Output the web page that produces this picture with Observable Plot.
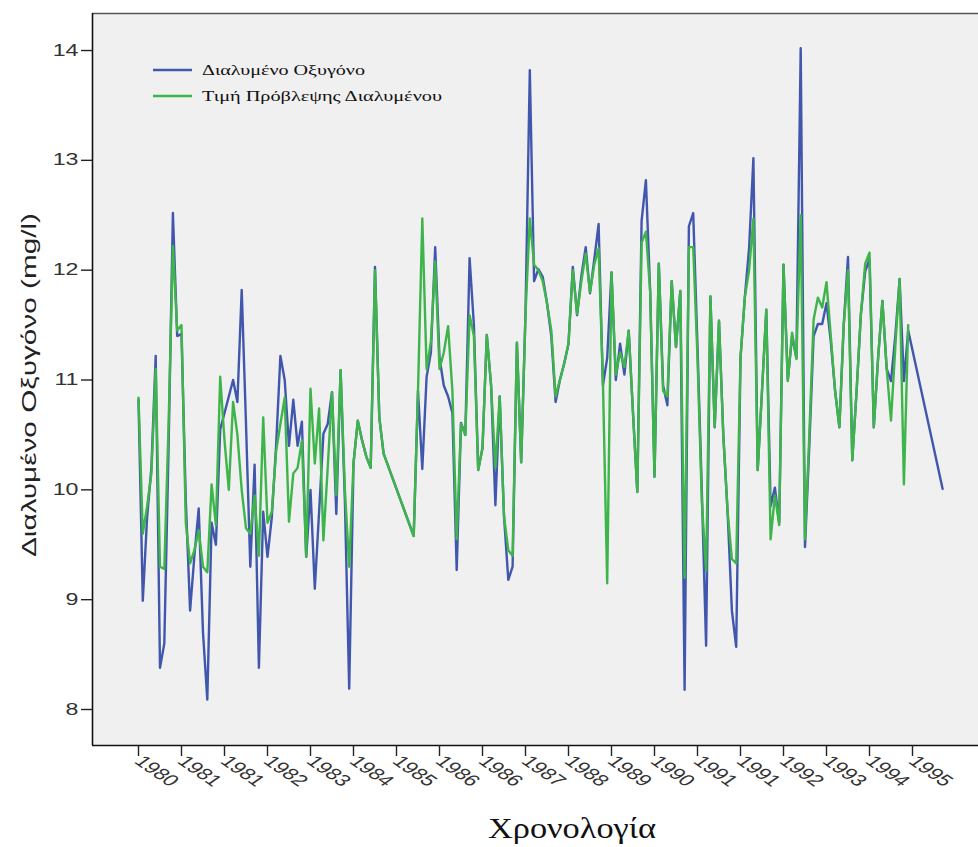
<!DOCTYPE html>
<html>
<head>
<meta charset="utf-8">
<script src="https://cdn.jsdelivr.net/npm/d3@7"></script>
<script src="https://cdn.jsdelivr.net/npm/@observablehq/plot@0.6"></script>
<style>
  html, body { margin: 0; padding: 0; background: #ffffff; }
  svg { display: block; }
</style>
</head>
<body>
<div id="chart"></div>
<script>
// ---------- data ----------
const seriesNames = ["Διαλυμένο Οξυγόνο", "Τιμή Πρόβλεψης Διαλυμένου"];
const seriesColors = ["#4157ad", "#3db54a"];

// x axis: case sequence, a labelled tick every 10 cases
const tickCases = [0, 10, 20, 30, 40, 50, 60, 70, 80, 90, 100, 110, 120, 130, 140, 150, 160, 170, 180];
const tickLabels = ["1980", "1981", "1981", "1982", "1983", "1984", "1985", "1986", "1986", "1987",
                    "1988", "1989", "1990", "1991", "1991", "1992", "1993", "1994", "1995"];
const yTicks = [8, 9, 10, 11, 12, 13, 14];

// observed dissolved oxygen (mg/l), one value per case; null = no vertex drawn
const observed = [
  10.82, 8.99, 9.75, 10.2, 11.22, 8.38, 8.6, 10.4, 12.52, 11.4,
  11.42, 9.9, 8.9, 9.4, 9.83, 8.7, 8.09, 9.7, 9.5, 10.55,
  10.7, 10.85, 11.0, 10.8, 11.82, 10.6, 9.3, 10.23, 8.38, 9.8,
  9.39, 9.75, 10.4, 11.22, 11.0, 10.4, 10.82, 10.4, 10.62, 9.39,
  10.0, 9.1, 9.8, 10.51, 10.6, 10.89, 9.78, 11.09, 9.9, 8.19,
  10.24, 10.63, 10.45, 10.3, 10.2, 12.03, 10.66, 10.33, null, null,
  null, null, null, null, 9.58, 10.9, 10.19, 11.03, 11.25, 12.21,
  11.2, 10.95, 10.85, 10.7, 9.27, 10.61, 10.5, 12.11, 11.5, 10.18,
  10.38, 11.41, 10.95, 9.86, 10.85, 9.76, 9.18, 9.3, 11.34, 10.25,
  11.6, 13.82, 11.9, 12.01, 11.94, 11.7, 11.4, 10.8, 11.0, 11.15,
  11.33, 12.03, 11.59, 11.95, 12.21, 11.79, 12.1, 12.42, 10.95, 11.2,
  11.98, 11.0, 11.33, 11.05, 11.45, 10.7, 9.98, 12.45, 12.82, 11.8,
  10.12, 12.06, 10.95, 10.77, 11.9, 11.3, 11.81, 8.18, 12.4, 12.52,
  11.3, 10.0, 8.58, 11.76, 10.57, 11.54, 10.5, 9.8, 8.9, 8.57,
  11.2, 11.75, 12.2, 13.02, 10.18, 10.9, 11.64, 9.85, 10.02, 9.7,
  12.05, 11.0, 11.4, 11.2, 14.02, 9.48, 10.4, 11.4, 11.51, 11.51,
  11.7, 11.35, 10.9, 10.57, 11.5, 12.12, 10.27, 10.9, 11.6, 11.99,
  12.1, 10.57, 11.2, 11.72, 11.1, 10.99, 11.4, 11.92, 10.99, 11.45,
  null, null, null, null, null, null, null, 10.01
];

// predicted dissolved oxygen (mg/l)
const predicted = [
  10.84, 9.6, 9.85, 10.15, 11.1, 9.3, 9.28, 10.6, 12.22, 11.45,
  11.5, 9.7, 9.33, 9.45, 9.63, 9.3, 9.25, 10.05, 9.68, 11.03,
  10.45, 10.0, 10.8, 10.5, 10.0, 9.65, 9.6, 9.95, 9.4, 10.66,
  9.7, 9.8, 10.35, 10.6, 10.84, 9.71, 10.15, 10.2, 10.45, 9.39,
  10.92, 10.24, 10.74, 9.54, 10.2, 10.89, 9.95, 11.09, 10.0, 9.3,
  10.24, 10.63, 10.45, 10.3, 10.2, 12.0, 10.66, 10.33, null, null,
  null, null, null, null, 9.58, 10.9, 12.47, 11.1, 11.35, 12.08,
  11.1, 11.25, 11.49, 10.9, 9.55, 10.6, 10.5, 11.59, 11.4, 10.18,
  10.38, 11.41, 10.95, 10.2, 10.85, 9.76, 9.45, 9.4, 11.34, 10.25,
  11.6, 12.47, 12.05, 12.0, 11.9, 11.7, 11.45, 10.85, 11.0, 11.15,
  11.33, 12.0, 11.6, 11.9, 12.15, 11.8, 12.05, 12.2, 11.0, 9.15,
  11.98, 11.05, 11.25, 11.12, 11.45, 10.7, 9.98, 12.25, 12.35, 11.8,
  10.12, 12.06, 10.9, 10.85, 11.9, 11.3, 11.81, 9.2, 12.21, 12.21,
  11.2, 9.9, 9.26, 11.76, 10.57, 11.54, 10.5, 9.8, 9.37, 9.33,
  11.2, 11.75, 12.0, 12.47, 10.18, 10.9, 11.64, 9.55, 9.95, 9.68,
  12.05, 10.99, 11.43, 11.19, 12.5, 9.55, 10.5, 11.55, 11.75, 11.66,
  11.89, 11.4, 10.9, 10.57, 11.5, 12.0, 10.27, 10.9, 11.6, 12.06,
  12.16, 10.57, 11.2, 11.72, 11.1, 10.63, 11.3, 11.92, 10.05, 11.5,
  null, null, null, null, null, null, null, null
];

const cases = d3.range(observed.length);

// ---------- tables for the marks ----------
const obsRows = cases.filter(c => observed[c] != null).map(c => ({case: c, value: observed[c]}));
const predRows = cases.filter(c => predicted[c] != null).map(c => ({case: c, value: predicted[c]}));

// ---------- layout ----------
const W = 978, H = 847;
const mL = 92, mR = 0, mT = 13, mB = 102;
const pxPerCase = 4.3, firstCasePx = 138;      // layout of the case axis
const pxPerUnit = 109.83, y8px = 709;          // layout of the value axis
const xDomain = [(mL - firstCasePx) / pxPerCase, (W - mR - firstCasePx) / pxPerCase];
const yDomain = [8 - (H - mB - y8px) / pxPerUnit, 8 + (y8px - mT) / pxPerUnit];

const sans = "'Liberation Sans', Arial, 'DejaVu Sans', sans-serif";
const serif = "'Liberation Serif', 'Times New Roman', 'DejaVu Serif', serif";

const chart = Plot.plot({
  width: W,
  height: H,
  marginLeft: mL,
  marginRight: mR,
  marginTop: mT,
  marginBottom: mB,
  style: {fontFamily: sans, background: "#ffffff", color: "#222"},
  x: {domain: xDomain, label: null},
  y: {domain: yDomain, label: null},
  marks: [
    Plot.frame({fill: "#f0f0f0", stroke: null}),
    Plot.line(obsRows, {x: "case", y: "value", stroke: seriesColors[0], strokeWidth: 2.4}),
    Plot.line(predRows, {x: "case", y: "value", stroke: seriesColors[1], strokeWidth: 2.4}),
    Plot.ruleY([yDomain[1]], {stroke: "#555", strokeWidth: 1.6}),
    Plot.ruleY([yDomain[0]], {stroke: "#111", strokeWidth: 1.6}),
    Plot.ruleX([xDomain[0]], {stroke: "#111", strokeWidth: 1.6}),
    Plot.axisY({
      ticks: yTicks, tickSize: 11, tickPadding: 3, fontSize: 16,
      tickFormat: d => String(d), label: null, stroke: "#222", fill: "#333", strokeWidth: 1.4
    }),
    Plot.axisX({
      ticks: tickCases, tickSize: 11, tickPadding: 2, fontSize: 16, tickRotate: 45,
      tickFormat: d => tickLabels[tickCases.indexOf(d)], label: null,
      stroke: "#222", fill: "#333", strokeWidth: 1.4
    })
  ]
});

document.getElementById("chart").appendChild(chart);

// the reference is horizontally stretched: widen tick label glyphs
const stretch = 1.45;
d3.select(chart).selectAll('g[aria-label="y-axis tick label"] text, g[aria-label="x-axis tick label"] text')
  .each(function() {
    const t = this.getAttribute("transform") || "";
    let nt;
    if (/rotate\(/.test(t)) nt = t.replace(/rotate\(/, `scale(${stretch},1) rotate(`);
    else nt = (t + ` scale(${stretch},1)`).trim();
    this.setAttribute("transform", nt);
  });

const svg = d3.select(chart);

// legend (inside the plot, top-left)
const legendX1 = 153, legendX2 = 192, legendTextX = 202;
const legendY = [70, 96];
const legendWidths = [163, 240];
const lg = svg.append("g").attr("text-anchor", "start");
seriesNames.forEach((name, k) => {
  lg.append("line")
    .attr("x1", legendX1).attr("x2", legendX2)
    .attr("y1", legendY[k]).attr("y2", legendY[k])
    .attr("stroke", seriesColors[k]).attr("stroke-width", 2.4);
  lg.append("text")
    .attr("x", legendTextX).attr("y", legendY[k] + 5)
    .attr("text-anchor", "start")
    .attr("font-family", serif).attr("font-size", 15)
    .attr("fill", "#111")
    .attr("textLength", legendWidths[k]).attr("lengthAdjust", "spacingAndGlyphs")
    .text(name);
});

// axis titles
svg.append("text")
  .attr("transform", "translate(36,385) rotate(-90)")
  .attr("text-anchor", "middle")
  .attr("font-family", sans).attr("font-size", 21).attr("fill", "#222")
  .attr("textLength", 344).attr("lengthAdjust", "spacingAndGlyphs")
  .text("Διαλυμένο Οξυγόνο (mg/l)");

svg.append("text")
  .attr("x", 488).attr("y", 838)
  .attr("text-anchor", "start")
  .attr("font-family", serif).attr("font-size", 30).attr("fill", "#111")
  .attr("textLength", 168).attr("lengthAdjust", "spacingAndGlyphs")
  .text("Χρονολογία");
</script>
</body>
</html>
